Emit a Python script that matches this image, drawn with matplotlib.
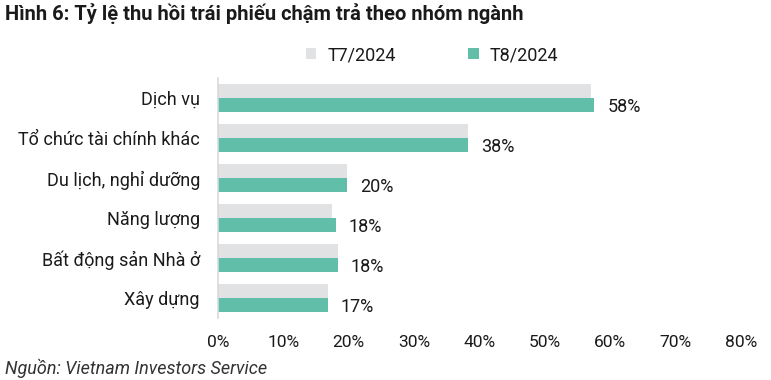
"""
Hình 6: Tỷ lệ thu hồi trái phiếu chậm trả theo nhóm ngành
"""
import matplotlib
matplotlib.use("Agg")
import numpy as np
import matplotlib.pyplot as plt
from matplotlib.ticker import FuncFormatter

plt.rcParams['font.family'] = ['Roboto', 'DejaVu Sans']

categories = ["Dịch vụ", "Tổ chức tài chính khác", "Du lịch, nghỉ dưỡng",
              "Năng lượng", "Bất động sản Nhà ở", "Xây dựng"]
t7_2024 = [57.0, 38.2, 19.7, 17.4, 18.3, 16.8]
t8_2024 = [57.6, 38.2, 19.7, 18.0, 18.3, 16.8]
series_names = ["T7/2024", "T8/2024"]
x_ticks = [0, 10, 20, 30, 40, 50, 60, 70, 80]

GRAY = "#e1e2e4"
TEAL = "#61bea8"
TXT = "#1a1a1a"

fig = plt.figure(figsize=(7.71, 3.80), dpi=100)
ax = fig.add_axes([0.2827, 0.163, 0.961 - 0.2827, 0.632])

y = np.arange(len(categories))
h = 0.355
ax.barh(y - h / 2, t7_2024, height=h, color=GRAY, label=series_names[0])
ax.barh(y + h / 2, t8_2024, height=h, color=TEAL, label=series_names[1])

for yi, v in zip(y, t8_2024):
    ax.text(v + 2.0, yi + h / 2 + 0.04, f"{v:.0f}%", va="center", ha="left",
            fontsize=13, color=TXT)

ax.set_xlim(0, 80)
ax.set_ylim(len(categories) - 0.5, -0.5)
ax.set_xticks(x_ticks)
ax.xaxis.set_major_formatter(FuncFormatter(lambda v, p: f"{v:.0f}%"))
ax.set_yticks(y)
ax.set_yticklabels(categories)
ax.tick_params(axis="x", length=0, pad=12, labelsize=12.5, labelcolor=TXT)
ax.tick_params(axis="y", length=0, pad=13, labelsize=13, labelcolor=TXT)
for s in ["top", "right", "bottom"]:
    ax.spines[s].set_visible(False)
ax.spines["left"].set_color("#d9d9d9")
ax.spines["left"].set_linewidth(1.2)

ax.legend(loc="center", bbox_to_anchor=(432 / 771, 1 - 55 / 380),
          bbox_transform=fig.transFigure, ncol=2, frameon=False,
          fontsize=13, handlelength=0.6, handleheight=0.6,
          columnspacing=4.0, handletextpad=0.6, labelcolor=TXT)

fig.text(5 / 771, 1 - 14 / 380, "Hình 6: Tỷ lệ thu hồi trái phiếu chậm trả theo nhóm ngành",
         fontsize=14.5, fontweight="bold", va="center", ha="left", color=TXT)
fig.text(5 / 771, 1 - 368 / 380, "Nguồn: Vietnam Investors Service",
         fontsize=13, style="italic", va="center", ha="left", color="#333333")

fig.savefig("out.png", dpi=100)
